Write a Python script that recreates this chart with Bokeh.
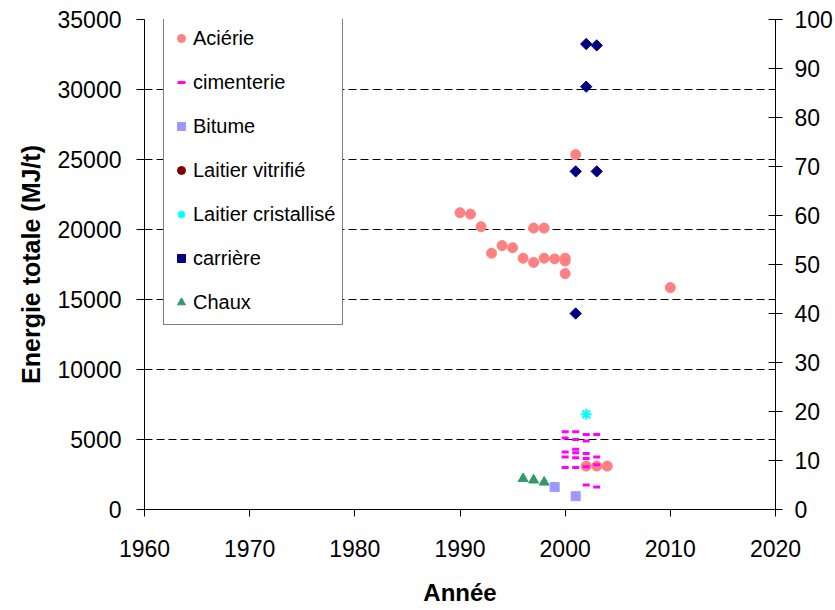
import math
from bokeh.plotting import figure
from bokeh.models import Range1d, LinearAxis, FixedTicker, Legend, LegendItem
from bokeh.embed import file_html
from bokeh.resources import INLINE

# ---- data ----
acierie_year = [1990, 1991, 1992, 1993, 1994, 1995, 1996, 1997, 1997, 1998, 1998, 1999,
                2000, 2000, 2000, 2001, 2002, 2003, 2004, 2010]
acierie_val = [21200, 21100, 20200, 18300, 18850, 18700, 17950, 17650, 20100, 20100, 17950, 17900,
               17950, 17750, 16850, 25350, 3100, 3100, 3100, 15850]

cimenterie_year = [2000, 2000, 2000, 2000, 2000,
                   2001, 2001, 2001, 2001, 2001, 2001,
                   2002, 2002, 2002, 2002, 2002, 2002,
                   2003, 2003, 2003, 2003]
cimenterie_val = [5550, 5100, 4100, 3750, 3000,
                  5550, 5000, 4300, 4050, 3700, 3000,
                  5350, 4900, 4000, 3650, 3050, 1750,
                  5350, 3750, 3200, 1600]

bitume_year = [1999, 2001]
bitume_val = [1600, 950]

# no visible point for this series in the chart (legend entry only)
vitrifie_year = [float("nan")]
vitrifie_val = [float("nan")]

cristallise_year = [2002]
cristallise_val = [6800]

carriere_year = [2001, 2001, 2002, 2002, 2003, 2003]
carriere_val = [24150, 14000, 33250, 30200, 33150, 24150]

chaux_year = [1996, 1997, 1998]
chaux_val = [2200, 2100, 1950]

x_ticks = [1960, 1970, 1980, 1990, 2000, 2010, 2020]
y_ticks = [0, 5000, 10000, 15000, 20000, 25000, 30000, 35000]
y2_ticks = [0, 10, 20, 30, 40, 50, 60, 70, 80, 90, 100]

FONT = "Liberation Sans"

p = figure(width=835, height=610, output_backend="svg", toolbar_location=None,
           x_range=Range1d(1960, 2020), y_range=Range1d(0, 35000),
           min_border_left=144, min_border_right=59, min_border_top=19, min_border_bottom=101)
p.outline_line_color = None
p.background_fill_color = "white"
p.border_fill_color = "white"

p.xgrid.visible = False
p.ygrid.ticker = FixedTicker(ticks=y_ticks[1:])
p.ygrid.grid_line_color = "black"
p.ygrid.grid_line_width = 1
p.ygrid.grid_line_dash = "8 4"

# bottom axis
xa = p.xaxis[0]
xa.ticker = FixedTicker(ticks=x_ticks)
xa.major_tick_in = 0
xa.major_tick_out = 7
xa.minor_tick_line_color = None
xa.axis_line_color = "black"
xa.major_tick_line_color = "black"
xa.major_label_text_font = FONT
xa.major_label_text_font_size = "23px"
xa.major_label_text_color = "black"
xa.major_label_standoff = 23
xa.axis_label = "Année"
xa.axis_label_text_font = FONT
xa.axis_label_text_font_style = "bold"
xa.axis_label_text_font_size = "24px"
xa.axis_label_text_color = "black"
xa.axis_label_standoff = 19

# left axis
ya = p.yaxis[0]
ya.ticker = FixedTicker(ticks=y_ticks)
ya.major_tick_in = 0
ya.major_tick_out = 8
ya.minor_tick_line_color = None
ya.axis_line_color = "black"
ya.major_tick_line_color = "black"
ya.major_label_text_font = FONT
ya.major_label_text_font_size = "23px"
ya.major_label_text_color = "black"
ya.major_label_standoff = 15
ya.axis_label = "Energie totale (MJ/t)"
ya.axis_label_text_font = FONT
ya.axis_label_text_font_style = "bold"
ya.axis_label_text_font_size = "25px"
ya.axis_label_text_color = "black"
ya.axis_label_standoff = 10

# right axis
p.extra_y_ranges = {"pct": Range1d(0, 100)}
ra = LinearAxis(y_range_name="pct", ticker=FixedTicker(ticks=y2_ticks))
ra.major_tick_in = 7
ra.major_tick_out = 7
ra.minor_tick_line_color = None
ra.axis_line_color = "black"
ra.major_tick_line_color = "black"
ra.major_label_text_font = FONT
ra.major_label_text_font_size = "23px"
ra.major_label_text_color = "black"
ra.major_label_standoff = 12
p.add_layout(ra, "right")

# series
r_ac = p.scatter(acierie_year, acierie_val, marker="circle", size=10,
                 fill_color="#FF8080", line_color="#FF8080")
r_ci = p.scatter(cimenterie_year, cimenterie_val, marker="dash", size=7,
                 line_color="#FF00FF", line_width=3)
r_bi = p.scatter(bitume_year, bitume_val, marker="square", size=9,
                 fill_color="#9999FF", line_color="#9999FF")
r_lv = p.scatter(vitrifie_year, vitrifie_val, marker="circle", size=10,
                 fill_color="#800000", line_color="#800000")
r_lc = p.scatter(cristallise_year, cristallise_val, marker="asterisk", size=11,
                 line_color="#00FFFF", line_width=2)
r_ca = p.scatter(carriere_year, carriere_val, marker="square", size=8, angle=math.pi / 4,
                 fill_color="#000080", line_color="#000080")
r_ch = p.scatter(chaux_year, chaux_val, marker="triangle", size=10,
                 fill_color="#339966", line_color="#339966")

legend = Legend(items=[
    LegendItem(label="Aciérie", renderers=[r_ac]),
    LegendItem(label="cimenterie", renderers=[r_ci]),
    LegendItem(label="Bitume", renderers=[r_bi]),
    LegendItem(label="Laitier vitrifié", renderers=[r_lv]),
    LegendItem(label="Laitier cristallisé", renderers=[r_lc]),
    LegendItem(label="carrière", renderers=[r_ca]),
    LegendItem(label="Chaux", renderers=[r_ch]),
], location=(19, 184))
legend.padding = 7
legend.glyph_width = 20
legend.glyph_height = 30
legend.label_height = 30
legend.spacing = 14
legend.label_standoff = 2
legend.margin = 0
legend.label_text_font = FONT
legend.label_text_font_size = "20px"
legend.label_text_color = "black"
legend.border_line_color = "black"
legend.border_line_width = 1
legend.background_fill_color = "white"
legend.background_fill_alpha = 1.0
p.add_layout(legend, "center")

open("out.html", "w").write(file_html(p, INLINE))
